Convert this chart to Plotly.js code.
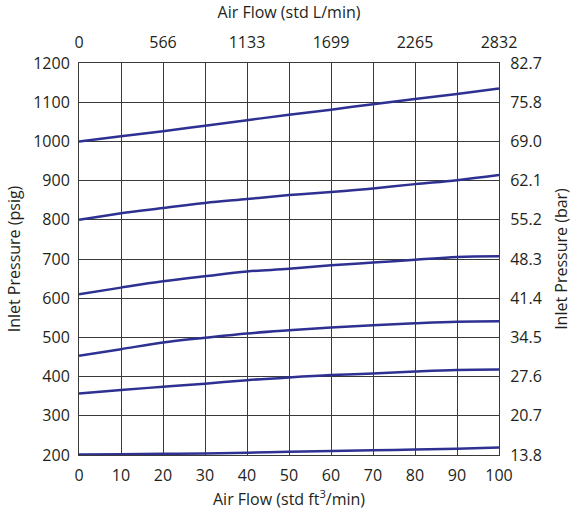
<!DOCTYPE html>
<html><head><meta charset="utf-8">
<script src="https://cdn.plot.ly/plotly-3.0.1.min.js"></script>
<style>html,body{margin:0;padding:0;background:#fff}#chart{width:574px;height:512px}</style>
</head><body><div id="chart"></div>
<script>
const flowCfm = [0,10,20,30,40,50,60,70,80,90,100];
const curve1 = [1000,1013,1026,1040,1054,1068,1081,1095,1108,1121,1135];
const curve2 = [800,817,830,843,853,863,871,880,891,901,914];
const curve3 = [610,627,643,656,668,675,684,691,698,705,707];
const curve4 = [453,470,487,499,510,518,525,531,536,540,541];
const curve5 = [357,366,374,382,391,398,404,408,413,417,418];
const curve6 = [201,202,203,204,206,208,210,212,214,216,219];
const psigTicks = [200,300,400,500,600,700,800,900,1000,1100,1200];
const barLabels = ['13.8','20.7','27.6','34.5','41.4','48.3','55.2','62.1','69.0','75.8','82.7'];
const lpmTickPos = [0,20,40,60,80,100];
const lpmLabels = ['0','566','1133','1699','2265','2832'];

const color = '#2e3192';
const curves = [curve1,curve2,curve3,curve4,curve5,curve6];
const traces = curves.map(c => ({x: flowCfm, y: c, mode:'lines', line:{color:color, width:2.5, shape:'spline'}, hoverinfo:'skip', showlegend:false}));
traces.push({x:[0,100], y:[200,1200], xaxis:'x2', yaxis:'y2', mode:'markers', marker:{opacity:0}, showlegend:false, hoverinfo:'skip'});

const font = {family:'Open Sans, Noto Sans, sans-serif', size:16, color:'#231f20'};
const axBase = {showgrid:true, gridcolor:'#3a3a3a', gridwidth:1, zeroline:false, showline:true, linecolor:'#3a3a3a', linewidth:1,
  ticks:'outside', tickcolor:'rgba(0,0,0,0)', tickfont:font, automargin:false};
const layout = {
  width:574, height:512,
  margin:{l:79, r:75, t:63, b:57},
  paper_bgcolor:'#fff', plot_bgcolor:'#fff',
  font: font,
  xaxis: Object.assign({}, axBase, {range:[0,100], dtick:10, tick0:0, ticklen:6,
    title:{text:'Air Flow (std ft<sup style="font-size:10px">3</sup>/min)', font:font, standoff:2}}),
  yaxis: Object.assign({}, axBase, {range:[200,1200], tickvals:psigTicks, ticklen:5,
    title:{text:'Inlet Pressure (psig)', font:font, standoff:8}}),
  xaxis2: Object.assign({}, axBase, {overlaying:'x', side:'top', range:[0,100], tickvals:lpmTickPos, ticktext:lpmLabels, showgrid:false, ticklen:8,
    title:{text:'Air Flow (std L/min)', font:font, standoff:7}}),
  yaxis2: Object.assign({}, axBase, {overlaying:'y', side:'right', range:[200,1200], tickvals:psigTicks, ticktext:barLabels, showgrid:false, ticklen:7,
    title:{text:'Inlet Pressure (bar)', font:font, standoff:14}})
};
Plotly.newPlot('chart', traces, layout, {staticPlot:true, displayModeBar:false});
</script></body></html>
